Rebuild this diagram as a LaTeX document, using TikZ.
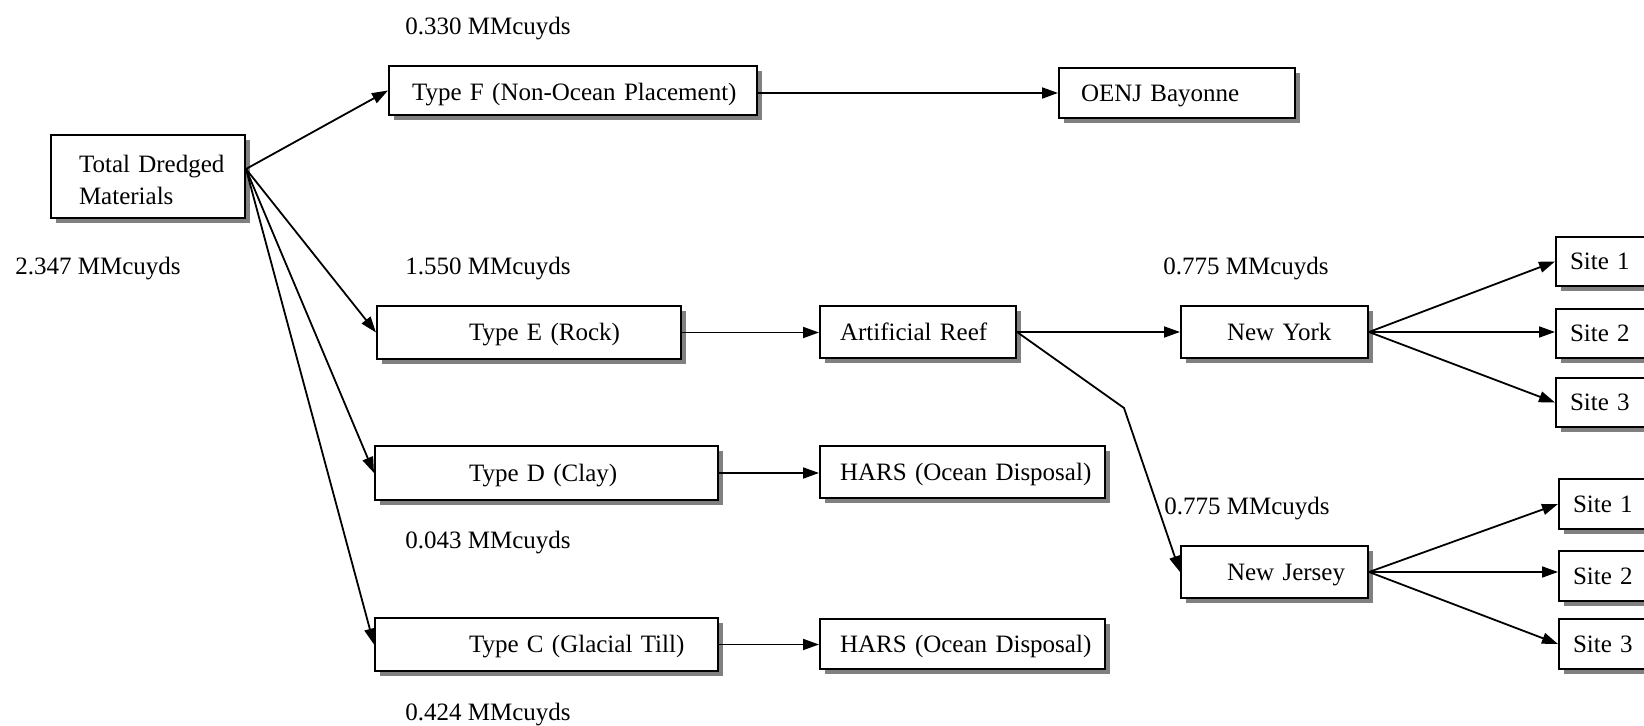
\documentclass[tikz,border=0pt]{standalone}
\usepackage{fontspec}
\setmainfont{Liberation Serif}
\usetikzlibrary{arrows.meta,shadows}
\tikzset{
  chart/.style={x=0.5pt,y=-0.5pt,font=\fontsize{12.5}{16}\selectfont},
  stage/.style n args={3}{draw,line width=1pt,fill=white,anchor=north west,
    inner xsep=0pt,inner ysep=0pt,align=left,text width=#1,minimum height=#2,
    text height=10pt,text depth=1.6pt,
    execute at begin node={\leftskip=#3\relax},
    drop shadow={shadow xshift=2.5pt,shadow yshift=-2.5pt,fill=black!50,opacity=1}},
  amount/.style={anchor=west,inner sep=0pt},
  flow/.style={-{Triangle[length=8pt,width=5.5pt]},line width=0.9pt},
}

\begin{document}
\begin{tikzpicture}[chart]
  \useasboundingbox (0,0) rectangle (1644,726);
  \clip (0,0) rectangle (1644,726);

  \node[stage={97pt}{41.5pt}{14pt},text depth=14.4pt] (total) at (50,134) {Total Dredged\\Materials};
  \node[stage={184pt}{24.5pt}{11.5pt},text depth=0pt] (typeF) at (388,65) {Type F (Non-Ocean Placement)};
  \node[stage={118pt}{25pt}{11pt}] (oenj) at (1058,67) {OENJ Bayonne};
  \node[stage={152pt}{26.5pt}{46pt}] (typeE) at (376,305) {Type E (Rock)};
  \node[stage={98pt}{26pt}{10pt}] (reef) at (819,305) {Artificial Reef};
  \node[stage={93.5pt}{26pt}{23pt}] (newyork) at (1180,305) {New York};
  \node[stage={171.5pt}{27pt}{47pt}] (typeD) at (374,445) {Type D (Clay)};
  \node[stage={142.5pt}{26pt}{10pt}] (harsD) at (819,445) {HARS (Ocean Disposal)};
  \node[stage={93.5pt}{26pt}{23pt}] (newjersey) at (1180,545) {New Jersey};
  \node[stage={171.5pt}{26.5pt}{47pt}] (typeC) at (374,617) {Type C (Glacial Till)};
  \node[stage={142.5pt}{25pt}{10pt}] (harsC) at (819,618) {HARS (Ocean Disposal)};
  \foreach \n/\y in {1/236,2/308,3/377}
    \node[stage={72.5pt}{24.5pt}{7pt}] (nysite\n) at (1555,\y) {Site \n};
  \foreach \n/\y in {1/478,2/550,3/618}
    \node[stage={72.5pt}{25pt}{7pt}] (njsite\n) at (1558,\y) {Site \n};

  \node[amount] (qtyF) at (405,29) {0.330 MMcuyds};
  \node[amount] (qtytotal) at (15,269) {2.347 MMcuyds};
  \node[amount] (qtyE) at (405,269) {1.550 MMcuyds};
  \node[amount] (qtyny) at (1163,269) {0.775 MMcuyds};
  \node[amount] (qtynj) at (1164,509) {0.775 MMcuyds};
  \node[amount] (qtyD) at (405,543) {0.043 MMcuyds};
  \node[amount] (qtyC) at (405,715) {0.424 MMcuyds};

  \draw[flow] ([yshift=3.75pt]total.east) -- (typeF.west);
  \draw[flow] ([yshift=3.75pt]total.east) -- (typeE.west);
  \draw[flow] ([yshift=3.75pt]total.east) -- (typeD.west);
  \draw[flow] ([yshift=3.75pt]total.east) -- (typeC.west);
  \draw[flow] (typeF.east |- oenj.west) -- (oenj.west);
  \draw[flow] (typeE.east) -- (typeE.east -| reef.west);
  \draw[flow] (typeD.east) -- (typeD.east -| harsD.west);
  \draw[flow] (typeC.east) -- (typeC.east -| harsC.west);
  \draw[flow] (reef.east) -- (reef.east -| newyork.west);
  \coordinate (bend) at (1124,408);
  \draw[flow] (reef.east) -- (bend) -- (newjersey.west);
  \draw[flow] (newyork.east) -- (nysite1.west);
  \draw[flow] (newyork.east) -- (newyork.east -| nysite2.west);
  \draw[flow] (newyork.east) -- (nysite3.west);
  \draw[flow] (newjersey.east) -- (njsite1.west);
  \draw[flow] (newjersey.east) -- (newjersey.east -| njsite2.west);
  \draw[flow] (newjersey.east) -- (njsite3.west);
\end{tikzpicture}
\end{document}
